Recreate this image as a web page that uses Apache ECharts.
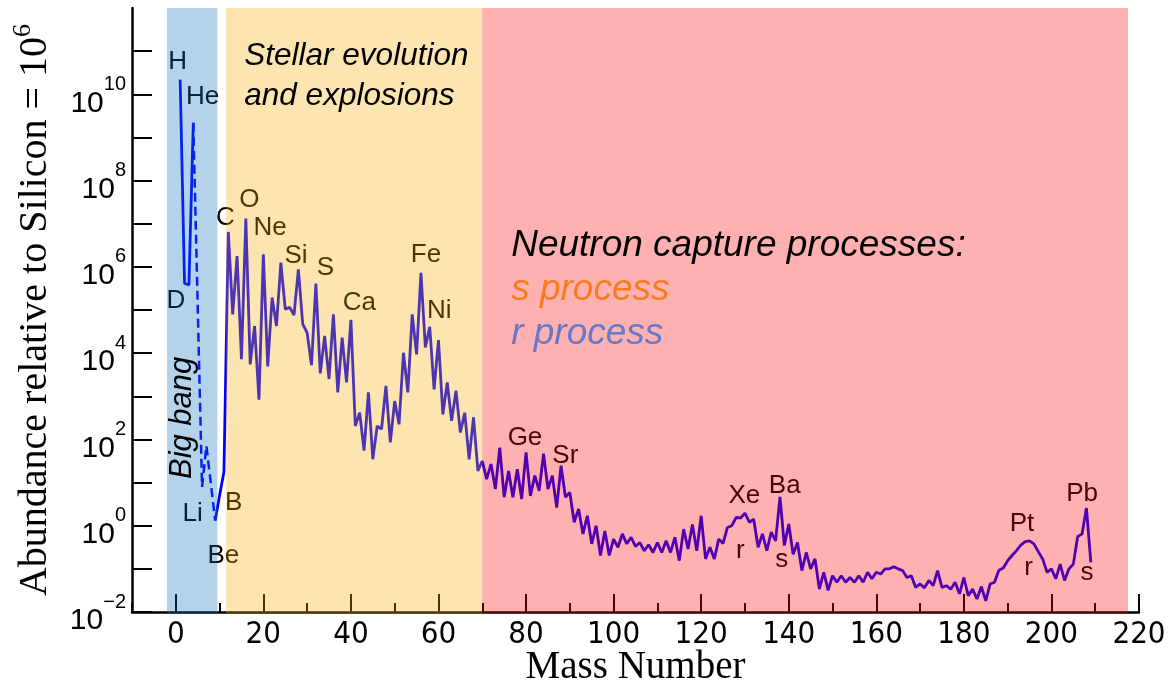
<!DOCTYPE html>
<html>
<head>
<meta charset="utf-8">
<script src="https://cdn.jsdelivr.net/npm/echarts@6/dist/echarts.min.js"></script>
<style>
  html, body { margin: 0; padding: 0; background: #fff; }
  #chart { width: 1171px; height: 686px; }
</style>
</head>
<body>
<div id="chart"></div>
<script>
// Solar-system abundances per mass number, given as powers of ten (Si = 10^6)

// H, D, 3He, 4He
const primordialMass = [1, 2, 3, 4];
const primordialExp = [10.34, 5.62, 5.58, 9.34];

// across the A = 5 and A = 8 gaps: 4He, 6Li, 7Li, 9Be
const bridgeMass = [4, 6, 7, 9];
const bridgeExp = [9.34, 0.9, 1.85, 0.12];

// every mass number from 9 to 209
const firstHeavyMass = 9;
const heavyExp = [
  0.12, 0.70, 1.25, 6.81, 4.90, 6.25, 3.86, 7.12, 3.74, 4.63,
  2.92, 6.29, 3.69, 5.29, 4.63, 6.10, 5.02, 5.06, 4.88, 5.94,
  4.67, 4.47, 3.72, 5.61, 3.53, 4.40, 3.40, 4.90, 3.09, 4.36,
  3.32, 4.77, 2.31, 2.62, 1.74, 3.09, 1.54, 2.31, 2.24, 3.24,
  1.93, 2.89, 2.35, 4.01, 3.09, 4.90, 3.97, 5.86, 4.13, 4.61,
  3.16, 4.30, 2.58, 3.32, 2.43, 3.13, 2.16, 2.62, 1.54, 2.51,
  1.27, 1.50, 1.08, 1.43, 0.85, 1.81, 0.66, 1.27, 0.66, 1.31,
  0.62, 1.70, 0.69, 1.16, 0.81, 1.67, 0.85, 1.16, 0.42, 1.39,
  0.66, 0.77, 0.08, 0.39, -0.19, 0.23, -0.42, 0.00, -0.69, -0.12,
  -0.69, -0.31, -0.50, -0.19, -0.42, -0.27, -0.48, -0.39, -0.58, -0.44,
  -0.62, -0.39, -0.62, -0.35, -0.62, -0.27, -0.81, -0.08, -0.54, 0.03,
  -0.58, 0.23, -0.77, -0.50, -0.77, -0.31, -0.41, -0.04, 0.00, 0.19,
  0.18, 0.29, 0.08, 0.15, -0.50, -0.19, -0.58, -0.15, -0.35, 0.67,
  -0.46, 0.04, -0.66, -0.39, -1.04, -0.62, -1.00, -0.77, -1.47, -1.08,
  -1.50, -1.16, -1.31, -1.16, -1.31, -1.20, -1.31, -1.16, -1.31, -1.08,
  -1.23, -1.08, -1.12, -1.00, -1.00, -0.95, -1.00, -1.04, -1.20, -1.16,
  -1.43, -1.35, -1.44, -1.27, -1.39, -1.04, -1.43, -1.39, -1.47, -1.31,
  -1.58, -1.20, -1.62, -1.47, -1.70, -1.41, -1.74, -1.35, -1.31, -1.03,
  -0.98, -0.81, -0.69, -0.58, -0.45, -0.37, -0.35, -0.42, -0.60, -0.77,
  -1.08, -1.00, -1.23, -0.89, -1.27, -1.00, -0.89, -0.25, -0.19, 0.41,
  -0.85
];

// axis ticks
const xTickLabels = [0, 20, 40, 60, 80, 100, 120, 140, 160, 180, 200, 220];
const yTickExps = [-2, -1, 0, 1, 2, 3, 4, 5, 6, 7, 8, 9, 10, 11];
const yLabelExps = [-2, 0, 2, 4, 6, 8, 10];

// nucleosynthesis regimes (mass-number spans)
const regimeNames = ['Big bang', 'Stellar evolution and explosions', 'Neutron capture processes'];
const regimeSpans = [[-2, 9.5], [11.5, 70], [70, 217.5]];

// element tags and where they sit (mass number, power of ten)
const elementTags = ['H', 'He', 'D', 'Li', 'Be', 'B', 'C', 'O', 'Ne', 'Si', 'S', 'Ca', 'Fe', 'Ni',
  'Ge', 'Sr', 'Xe', 'r', 'Ba', 's', 'Pt', 'r', 'Pb', 's'];
const elementTagAt = [
  [0.41, 10.76], [6.12, 9.95], [0.05, 5.21], [3.84, 0.28], [10.85, -0.69], [13.2, 0.54],
  [11.31, 7.14], [16.79, 7.56], [21.52, 6.91], [27.46, 6.25], [34.15, 5.98], [41.91, 5.17],
  [57.15, 6.29], [60.19, 4.98], [79.76, 2.04], [88.97, 1.62], [129.86, 0.69], [128.94, -0.59],
  [139.08, 0.93], [138.39, -0.78], [193.28, 0.04], [194.79, -0.97], [206.99, 0.73], [208.13, -1.09]
];

// ---------------------------------------------------------------------------
const X_MIN = -10, X_MAX = 220, Y_MIN = -2, Y_MAX = 12;

const sansFont = "'Liberation Sans', Arial, Helvetica, sans-serif";
const narrowFont = "'Liberation Sans Narrow', 'DejaVu Sans Condensed', 'Liberation Sans', sans-serif";
const serifFont = "'Liberation Serif', 'Times New Roman', serif";

// translucent washes laid over the plot (they tint the curve and tags beneath)
const regimeFill = ['rgba(13,113,191,0.31)', 'rgba(248,171,7,0.31)', 'rgba(255,0,0,0.31)'];

const heavyData = heavyExp.map((v, i) => [firstHeavyMass + i, v]);
const primordialData = primordialMass.map((m, i) => [m, primordialExp[i]]);
const bridgeData = bridgeMass.map((m, i) => [m, bridgeExp[i]]);
const tagData = elementTags.map((t, i) => [elementTagAt[i][0], elementTagAt[i][1], t]);

const supExp = v => (v < 0 ? '\u2212' + (-v) : String(v));

const curveStyle = { color: '#0000ff', width: 2.8 };

const chart = echarts.init(document.getElementById('chart'), null, { renderer: 'canvas' });

const option = {
  animation: false,
  backgroundColor: '#ffffff',
  textStyle: { fontFamily: sansFont },
  grid: { left: 132, right: 32, top: 8, bottom: 74, containLabel: false, outerBoundsMode: 'none' },
  xAxis: [
    {
      type: 'value', min: X_MIN, max: X_MAX, interval: 10,
      axisLine: { show: true, onZero: false, lineStyle: { color: '#000', width: 2.5 } },
      axisTick: { show: true, inside: true, length: 9, lineStyle: { color: '#000', width: 2 } },
      axisLabel: {
        show: true, margin: 7, color: '#000', fontFamily: narrowFont, fontSize: 31,
        formatter: v => (xTickLabels.indexOf(v) >= 0 ? String(v) : '')
      },
      splitLine: { show: false },
      name: 'Mass Number', nameLocation: 'middle', nameGap: 36, nameMoveOverlap: false,
      nameTextStyle: { fontFamily: serifFont, fontSize: 39, color: '#000' }
    },
    {
      type: 'value', min: X_MIN, max: X_MAX, interval: 10, position: 'bottom',
      axisLine: { show: false, onZero: false },
      axisTick: { show: true, inside: true, length: 18, customValues: xTickLabels, lineStyle: { color: '#000', width: 2 } },
      axisLabel: { show: false },
      splitLine: { show: false }
    }
  ],
  yAxis: {
    type: 'value', min: Y_MIN, max: Y_MAX, interval: 1,
    axisLine: { show: true, onZero: false, lineStyle: { color: '#000', width: 2.5 } },
    axisTick: { show: true, inside: true, length: 20, customValues: yTickExps, lineStyle: { color: '#000', width: 2 } },
    axisLabel: {
      show: true, margin: 6, color: '#000', padding: [4, 0, 0, 0],
      formatter: v => (yLabelExps.indexOf(v) >= 0 ? '{b|10}{s|' + supExp(v) + '}' : ''),
      rich: {
        b: { fontFamily: sansFont, fontSize: 30, color: '#000', lineHeight: 44, verticalAlign: 'bottom' },
        s: { fontFamily: sansFont, fontSize: 20, color: '#000', lineHeight: 20, verticalAlign: 'top' }
      }
    },
    splitLine: { show: false },
    name: 'Abundance relative to Silicon = 10{sup|6}',
    nameLocation: 'middle', nameGap: 72, nameMoveOverlap: false,
    nameTextStyle: {
      fontFamily: serifFont, fontSize: 40, color: '#000', lineHeight: 50,
      rich: { sup: { fontFamily: serifFont, fontSize: 26, color: '#000', lineHeight: 26, verticalAlign: 'top' } }
    }
  },
  series: [
    {
      name: 'primordial', type: 'line', z: 2, data: primordialData,
      showSymbol: false, symbol: 'none', lineStyle: curveStyle, silent: true
    },
    {
      name: 'light-gap', type: 'line', z: 2, data: bridgeData,
      showSymbol: false, symbol: 'none', silent: true,
      lineStyle: { color: '#0000ff', width: 2.5, type: [9, 5] }
    },
    {
      name: 'abundance', type: 'line', z: 2, data: heavyData,
      showSymbol: false, symbol: 'none', lineStyle: curveStyle, silent: true
    },
    {
      name: 'element tags', type: 'scatter', z: 3, data: tagData, symbolSize: 0, silent: true,
      itemStyle: { opacity: 1 },
      label: {
        show: true, position: 'inside', formatter: p => p.data[2], opacity: 1,
        color: '#000', fontFamily: sansFont, fontSize: 26, textBorderWidth: 0
      }
    },
    {
      name: 'regimes', type: 'custom', z: 5, silent: true, clip: false,
      data: regimeSpans,
      encode: { x: [0, 1] },
      renderItem: (params, api) => {
        const topLeft = api.coord([api.value(0), Y_MAX]);
        const bottomRight = api.coord([api.value(1), Y_MIN]);
        return {
          type: 'rect',
          shape: { x: topLeft[0], y: topLeft[1], width: bottomRight[0] - topLeft[0], height: bottomRight[1] - topLeft[1] + 1.5 },
          style: { fill: regimeFill[params.dataIndex] }
        };
      }
    },
    {
      name: 'regime captions', type: 'scatter', z: 6, symbolSize: 0, silent: true,
      itemStyle: { opacity: 1 },
      data: [
        {
          value: [15.65, 10.42],
          label: {
            show: true, position: 'inside', align: 'left', verticalAlign: 'middle', opacity: 1,
            formatter: 'Stellar evolution\nand explosions',
            fontFamily: sansFont, fontStyle: 'italic', fontSize: 31.5, lineHeight: 40, color: '#000'
          }
        },
        {
          value: [76.6, 5.46],
          label: {
            show: true, position: 'inside', align: 'left', verticalAlign: 'middle', opacity: 1,
            formatter: '{k|Neutron capture processes:}\n{s|s process}\n{r|r process}',
            rich: {
              k: { fontFamily: sansFont, fontStyle: 'italic', fontSize: 37, lineHeight: 44, color: '#000' },
              s: { fontFamily: sansFont, fontStyle: 'italic', fontSize: 37, lineHeight: 44, color: '#f77d1c' },
              r: { fontFamily: sansFont, fontStyle: 'italic', fontSize: 37, lineHeight: 44, color: '#6678c8' }
            }
          }
        },
        {
          value: [1.48, 2.5],
          label: {
            show: true, position: 'inside', rotate: 90, formatter: 'Big bang', opacity: 1,
            fontFamily: sansFont, fontStyle: 'italic', fontSize: 31, color: '#000'
          }
        }
      ]
    }
  ]
};

chart.setOption(option);
</script>
</body>
</html>
